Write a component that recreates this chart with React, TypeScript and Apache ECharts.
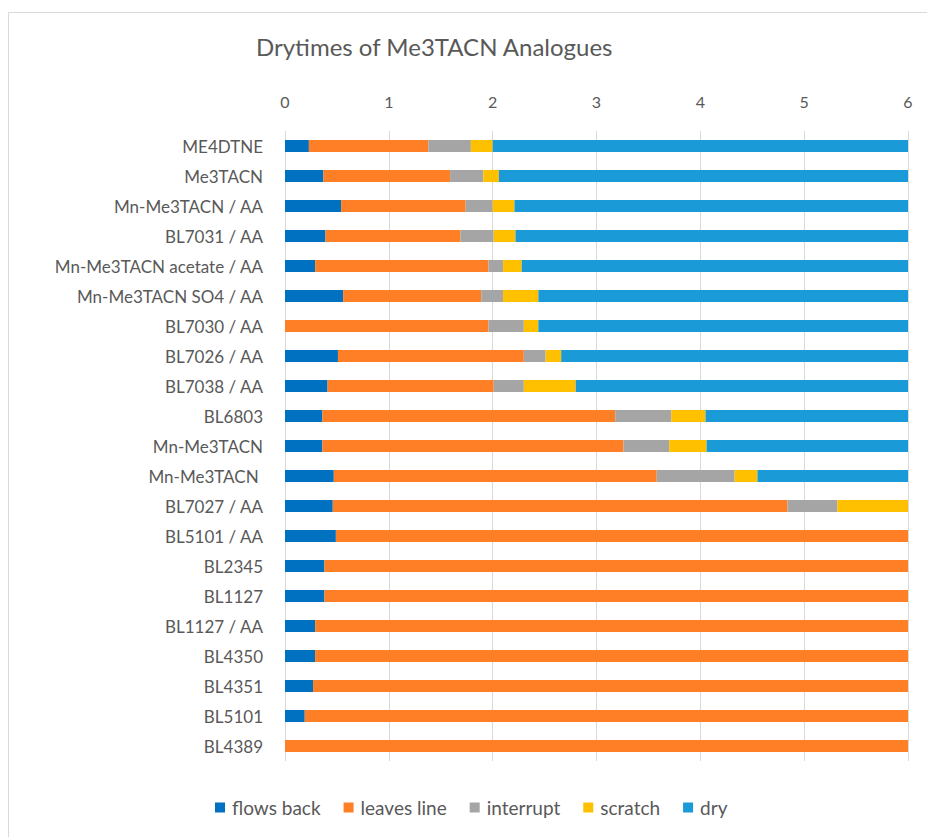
import React, { useEffect, useRef } from "react";
import * as echarts from "echarts";

const categories = [
  "ME4DTNE",
  "Me3TACN",
  "Mn-Me3TACN / AA",
  "BL7031 / AA",
  "Mn-Me3TACN acetate / AA",
  "Mn-Me3TACN SO4 / AA",
  "BL7030 / AA",
  "BL7026 / AA",
  "BL7038 / AA",
  "BL6803",
  "Mn-Me3TACN",
  "Mn-Me3TACN ",
  "BL7027 / AA",
  "BL5101 / AA",
  "BL2345",
  "BL1127",
  "BL1127 / AA",
  "BL4350",
  "BL4351",
  "BL5101",
  "BL4389",
];

const flowsBack = [0.23, 0.37, 0.54, 0.39, 0.29, 0.56, 0, 0.51, 0.41, 0.36, 0.36, 0.47, 0.46, 0.49, 0.38, 0.38, 0.29, 0.29, 0.27, 0.19, 0];
const leavesLine = [1.15, 1.22, 1.2, 1.3, 1.67, 1.33, 1.96, 1.79, 1.6, 2.82, 2.9, 3.11, 4.38, 5.51, 5.62, 5.62, 5.71, 5.71, 5.73, 5.81, 6];
const interrupt = [0.41, 0.32, 0.26, 0.32, 0.14, 0.21, 0.34, 0.21, 0.29, 0.54, 0.44, 0.75, 0.48, 0, 0, 0, 0, 0, 0, 0, 0];
const scratch = [0.21, 0.15, 0.21, 0.21, 0.18, 0.34, 0.14, 0.15, 0.5, 0.33, 0.36, 0.22, 0.68, 0, 0, 0, 0, 0, 0, 0, 0];
const dry = [4.0, 3.94, 3.79, 3.78, 3.72, 3.56, 3.56, 3.34, 3.2, 1.95, 1.94, 1.45, 0, 0, 0, 0, 0, 0, 0, 0, 0];

const xTicks = [0, 1, 2, 3, 4, 5, 6];

const seriesNames = ["flows back", "leaves line", "interrupt", "scratch", "dry"];
const seriesColors = ["#0070C0", "#FF7F27", "#A5A5A5", "#FFC000", "#1A9AD7"];
const seriesData = [flowsBack, leavesLine, interrupt, scratch, dry];

const FONT = "Lato, 'Noto Sans', sans-serif";

export default function App() {
  const ref = useRef<HTMLDivElement>(null);
  useEffect(() => {
    if (!ref.current) return;
    const chart = echarts.init(ref.current, undefined, { renderer: "svg" });
    chart.setOption({
      animation: false,
      backgroundColor: "#ffffff",
      textStyle: { fontFamily: FONT },
      title: {
        text: "Drytimes of Me3TACN Analogues",
        left: 251,
        top: 29,
        textStyle: { fontFamily: FONT, fontSize: 24, fontWeight: "normal", color: "#595959" },
      },
      graphic: [
        {
          type: "rect",
          shape: { x: 8.5, y: 12.5, width: 940, height: 850 },
          style: { fill: "none", stroke: "#d9d9d9", lineWidth: 1 },
          silent: true,
        },
      ],
      legend: {
        data: seriesNames,
        top: 793,
        left: 210,
        icon: "rect",
        itemWidth: 10,
        itemHeight: 10,
        itemGap: 23,
        textStyle: { fontFamily: FONT, fontSize: 19, color: "#595959", padding: [0, 0, 0, 2] },
      },
      grid: { left: 285, right: 19, top: 131, bottom: 76, containLabel: false },
      xAxis: {
        type: "value",
        position: "top",
        min: xTicks[0],
        max: xTicks[xTicks.length - 1],
        interval: 1,
        axisLine: { show: false },
        axisTick: { show: false },
        axisLabel: { color: "#595959", fontSize: 16, margin: 22, fontFamily: FONT },
        splitLine: { show: true, lineStyle: { color: "#d9d9d9", width: 1 } },
      },
      yAxis: {
        type: "category",
        data: categories,
        inverse: true,
        axisLine: { show: false },
        axisTick: { show: false },
        axisLabel: { color: "#595959", fontSize: 17, margin: 22, fontFamily: FONT },
        splitLine: { show: false },
      },
      series: seriesNames.map((name, i) => ({
        name,
        type: "bar",
        stack: "total",
        barWidth: 12,
        itemStyle: { color: seriesColors[i] },
        data: seriesData[i],
      })),
    });
    return () => chart.dispose();
  }, []);
  return (
    <div
      ref={ref}
      style={{ position: "absolute", left: 0, top: 0, width: 927, height: 837 }}
    />
  );
}
